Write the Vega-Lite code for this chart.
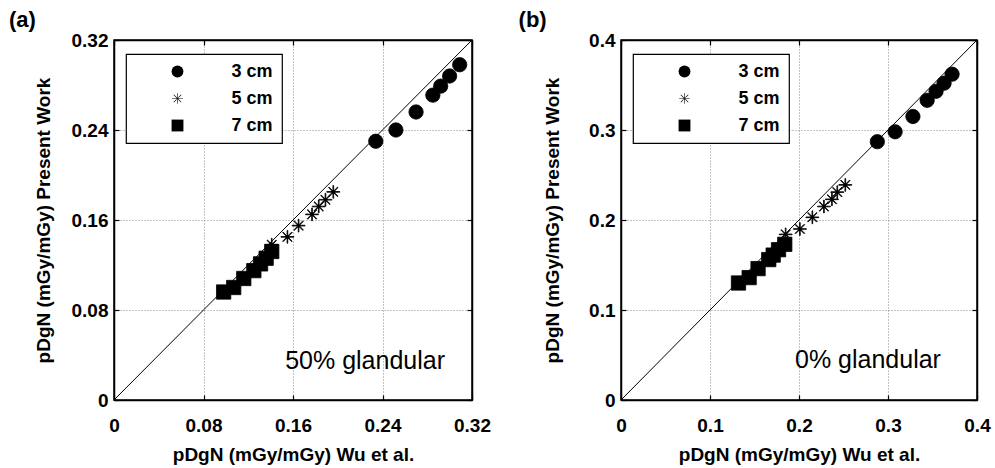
{
  "$schema": "https://vega.github.io/schema/vega-lite/v6.json",
  "padding": {"left": 8, "top": 8, "right": 5, "bottom": 2},
  "bounds": "flush",
  "spacing": 149,
  "config": {
    "font": "Liberation Sans",
    "view": {"stroke": "black", "strokeWidth": 1.5},
    "title": {"fontSize": 22, "fontWeight": "bold", "color": "black", "anchor": "start", "frame": "bounds", "offset": -1},
    "axis": {
      "labelFontSize": 19, "labelFontWeight": "bold", "labelColor": "black",
      "titleFontSize": 19, "titleFontWeight": "bold", "titleColor": "black",
      "tickColor": "black", "tickSize": -5, "tickWidth": 1.2, "domainColor": "black", "domainWidth": 1.5,
      "labelFlush": false, "labelOverlap": false,
      "gridDash": [1, 2], "gridColor": "#888", "gridWidth": 1, "gridOpacity": 1
    },
    "legend": {
      "orient": "none", "legendX": 12, "legendY": 14, "title": null,
      "fillColor": "white", "strokeColor": "black", "strokeWidth": 1.2,
      "padding": 8.5, "rowPadding": 9, "symbolOffset": 34, "labelOffset": 45,
      "labelFontSize": 18, "labelFontWeight": "bold", "labelColor": "black",
      "symbolSize": 140, "symbolStrokeWidth": 0.8, "symbolStrokeColor": "black", "symbolFillColor": "black"
    }
  },
  "resolve": {"scale": {"shape": "independent"}, "legend": {"shape": "independent"}},
  "datasets": {
    "a": [
      {"wu": 0.234, "present": 0.230, "thickness": "3 cm"},
      {"wu": 0.252, "present": 0.240, "thickness": "3 cm"},
      {"wu": 0.270, "present": 0.256, "thickness": "3 cm"},
      {"wu": 0.285, "present": 0.271, "thickness": "3 cm"},
      {"wu": 0.292, "present": 0.279, "thickness": "3 cm"},
      {"wu": 0.300, "present": 0.288, "thickness": "3 cm"},
      {"wu": 0.309, "present": 0.298, "thickness": "3 cm"},
      {"wu": 0.141, "present": 0.138, "thickness": "5 cm"},
      {"wu": 0.155, "present": 0.145, "thickness": "5 cm"},
      {"wu": 0.165, "present": 0.155, "thickness": "5 cm"},
      {"wu": 0.177, "present": 0.165, "thickness": "5 cm"},
      {"wu": 0.183, "present": 0.172, "thickness": "5 cm"},
      {"wu": 0.189, "present": 0.178, "thickness": "5 cm"},
      {"wu": 0.196, "present": 0.185, "thickness": "5 cm"},
      {"wu": 0.098, "present": 0.096, "thickness": "7 cm"},
      {"wu": 0.107, "present": 0.100, "thickness": "7 cm"},
      {"wu": 0.116, "present": 0.108, "thickness": "7 cm"},
      {"wu": 0.125, "present": 0.115, "thickness": "7 cm"},
      {"wu": 0.131, "present": 0.121, "thickness": "7 cm"},
      {"wu": 0.136, "present": 0.126, "thickness": "7 cm"},
      {"wu": 0.141, "present": 0.132, "thickness": "7 cm"}
    ],
    "b": [
      {"wu": 0.288, "present": 0.287, "thickness": "3 cm"},
      {"wu": 0.308, "present": 0.298, "thickness": "3 cm"},
      {"wu": 0.328, "present": 0.315, "thickness": "3 cm"},
      {"wu": 0.344, "present": 0.333, "thickness": "3 cm"},
      {"wu": 0.354, "present": 0.343, "thickness": "3 cm"},
      {"wu": 0.363, "present": 0.352, "thickness": "3 cm"},
      {"wu": 0.372, "present": 0.362, "thickness": "3 cm"},
      {"wu": 0.185, "present": 0.184, "thickness": "5 cm"},
      {"wu": 0.201, "present": 0.190, "thickness": "5 cm"},
      {"wu": 0.215, "present": 0.203, "thickness": "5 cm"},
      {"wu": 0.228, "present": 0.215, "thickness": "5 cm"},
      {"wu": 0.237, "present": 0.223, "thickness": "5 cm"},
      {"wu": 0.243, "present": 0.231, "thickness": "5 cm"},
      {"wu": 0.252, "present": 0.239, "thickness": "5 cm"},
      {"wu": 0.132, "present": 0.130, "thickness": "7 cm"},
      {"wu": 0.144, "present": 0.136, "thickness": "7 cm"},
      {"wu": 0.154, "present": 0.146, "thickness": "7 cm"},
      {"wu": 0.166, "present": 0.156, "thickness": "7 cm"},
      {"wu": 0.171, "present": 0.161, "thickness": "7 cm"},
      {"wu": 0.177, "present": 0.167, "thickness": "7 cm"},
      {"wu": 0.184, "present": 0.173, "thickness": "7 cm"}
    ]
  },
  "hconcat": [
    {
      "width": 358,
      "height": 360,
      "title": {"text": "(a)", "dx": -25},
      "resolve": {"axis": {"x": "independent", "y": "independent"}},
      "layer": [
        {
          "data": {"name": "a"},
          "mark": {"type": "point", "filled": true, "size": 205, "stroke": "black", "strokeWidth": 0.8, "opacity": 1},
          "encoding": {
            "x": {"field": "wu", "type": "quantitative", "scale": {"domain": [0, 0.32], "nice": false},
              "axis": {"orient": "bottom", "values": [0, 0.08, 0.16, 0.24, 0.32], "format": "~g", "title": "pDgN (mGy/mGy) Wu et al.", "grid": true, "labelPadding": 21, "titlePadding": 10}},
            "y": {"field": "present", "type": "quantitative", "scale": {"domain": [0, 0.32], "nice": false},
              "axis": {"orient": "left", "values": [0, 0.08, 0.16, 0.24, 0.32], "format": "~g", "title": "pDgN (mGy/mGy) Present Work", "grid": true, "labelPadding": 11, "titlePadding": 18}},
            "shape": {"field": "thickness", "type": "nominal",
              "scale": {"domain": ["3 cm", "5 cm", "7 cm"], "range": ["circle", "M-0.9,-0.05L0.9,-0.05L0.9,0.05L-0.9,0.05ZM-0.05,-0.9L0.05,-0.9L0.05,0.9L-0.05,0.9ZM-0.67,-0.6L-0.6,-0.67L0.67,0.6L0.6,0.67ZM-0.67,0.6L-0.6,0.67L0.67,-0.6L0.6,-0.67ZM-0.18,-0.18L0.18,-0.18L0.18,0.18L-0.18,0.18Z", "square"]}},
            "color": {"value": "black"}
          }
        },
        {
          "data": {"values": [{}]},
          "mark": {"type": "rule", "color": "black", "strokeWidth": 1},
          "encoding": {
            "x": {"datum": 0, "type": "quantitative", "axis": {"orient": "top", "values": [0, 0.08, 0.16, 0.24, 0.32], "labels": false, "title": null, "grid": false}},
            "y": {"datum": 0, "type": "quantitative", "axis": {"orient": "right", "values": [0, 0.08, 0.16, 0.24, 0.32], "labels": false, "title": null, "grid": false}},
            "x2": {"datum": 0.32},
            "y2": {"datum": 0.32}
          }
        },
        {
          "data": {"values": [{}]},
          "mark": {"type": "text", "align": "left", "baseline": "alphabetic", "fontSize": 25, "color": "black"},
          "encoding": {
            "x": {"datum": 0.153, "type": "quantitative", "axis": null},
            "y": {"datum": 0.028, "type": "quantitative", "axis": null},
            "text": {"value": "50% glandular"}
          }
        }
      ]
    },
    {
      "width": 356,
      "height": 360,
      "title": {"text": "(b)", "dx": -25},
      "resolve": {"axis": {"x": "independent", "y": "independent"}},
      "layer": [
        {
          "data": {"name": "b"},
          "mark": {"type": "point", "filled": true, "size": 205, "stroke": "black", "strokeWidth": 0.8, "opacity": 1},
          "encoding": {
            "x": {"field": "wu", "type": "quantitative", "scale": {"domain": [0, 0.4], "nice": false},
              "axis": {"orient": "bottom", "values": [0, 0.1, 0.2, 0.3, 0.4], "format": "~g", "title": "pDgN (mGy/mGy) Wu et al.", "grid": true, "labelPadding": 21, "titlePadding": 10}},
            "y": {"field": "present", "type": "quantitative", "scale": {"domain": [0, 0.4], "nice": false},
              "axis": {"orient": "left", "values": [0, 0.1, 0.2, 0.3, 0.4], "format": "~g", "title": "pDgN (mGy/mGy) Present Work", "grid": true, "labelPadding": 11, "titlePadding": 26}},
            "shape": {"field": "thickness", "type": "nominal",
              "scale": {"domain": ["3 cm", "5 cm", "7 cm"], "range": ["circle", "M-0.9,-0.05L0.9,-0.05L0.9,0.05L-0.9,0.05ZM-0.05,-0.9L0.05,-0.9L0.05,0.9L-0.05,0.9ZM-0.67,-0.6L-0.6,-0.67L0.67,0.6L0.6,0.67ZM-0.67,0.6L-0.6,0.67L0.67,-0.6L0.6,-0.67ZM-0.18,-0.18L0.18,-0.18L0.18,0.18L-0.18,0.18Z", "square"]}},
            "color": {"value": "black"}
          }
        },
        {
          "data": {"values": [{}]},
          "mark": {"type": "rule", "color": "black", "strokeWidth": 1},
          "encoding": {
            "x": {"datum": 0, "type": "quantitative", "axis": {"orient": "top", "values": [0, 0.1, 0.2, 0.3, 0.4], "labels": false, "title": null, "grid": false}},
            "y": {"datum": 0, "type": "quantitative", "axis": {"orient": "right", "values": [0, 0.1, 0.2, 0.3, 0.4], "labels": false, "title": null, "grid": false}},
            "x2": {"datum": 0.4},
            "y2": {"datum": 0.4}
          }
        },
        {
          "data": {"values": [{}]},
          "mark": {"type": "text", "align": "left", "baseline": "alphabetic", "fontSize": 25, "color": "black"},
          "encoding": {
            "x": {"datum": 0.1955, "type": "quantitative", "axis": null},
            "y": {"datum": 0.0356, "type": "quantitative", "axis": null},
            "text": {"value": "0% glandular"}
          }
        }
      ]
    }
  ]
}
